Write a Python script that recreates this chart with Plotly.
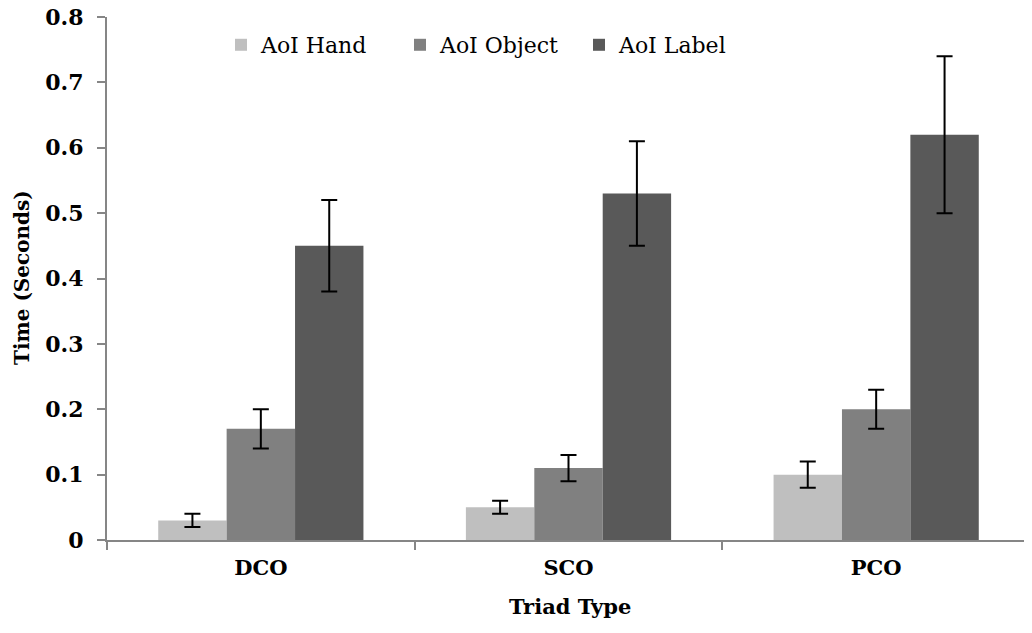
import plotly.graph_objects as go

categories = ["DCO", "SCO", "PCO"]
series_names = ["AoI Hand", "AoI Object", "AoI Label"]
hand = [0.03, 0.05, 0.10]
hand_err = [0.01, 0.01, 0.02]
obj = [0.17, 0.11, 0.20]
obj_err = [0.03, 0.02, 0.03]
label = [0.45, 0.53, 0.62]
label_err = [0.07, 0.08, 0.12]
y_tickvals = [0, 0.1, 0.2, 0.3, 0.4, 0.5, 0.6, 0.7, 0.8]
y_ticktext = ["0", "0.1", "0.2", "0.3", "0.4", "0.5", "0.6", "0.7", "0.8"]

colors = ["#bfbfbf", "#808080", "#595959"]
FONT = "DejaVu Serif"

fig = go.Figure()
for name, vals, errs, col in zip(series_names, [hand, obj, label], [hand_err, obj_err, label_err], colors):
    fig.add_trace(go.Bar(
        name=name,
        x=categories,
        y=vals,
        marker=dict(color=col, line=dict(width=0)),
        error_y=dict(type="data", array=errs, visible=True, color="black", thickness=2, width=8),
    ))

# page has an 8px body margin, so the figure is sized to the visible window
fig.update_layout(
    barmode="group",
    bargap=0.333,
    bargroupgap=0,
    width=1024,
    height=625,
    paper_bgcolor="white",
    plot_bgcolor="white",
    font=dict(family=FONT, color="black"),
    margin=dict(l=99, r=2, t=9, b=93),
    showlegend=True,
    legend=dict(
        orientation="h",
        x=0.1235, y=0.9465, xanchor="left", yanchor="middle",
        font=dict(size=22, family=FONT),
        bgcolor="rgba(0,0,0,0)",
        entrywidth=134,
        traceorder="normal",
    ),
    xaxis=dict(
        automargin=False,
        showline=True, linecolor="#868686", linewidth=2,
        ticks="outside", tickson="boundaries", ticklen=8, tickcolor="#868686", tickwidth=2,
        tickfont=dict(size=21, family=FONT),
        ticklabelstandoff=8,
        tickprefix="<b>", ticksuffix="</b>",
    ),
    yaxis=dict(
        automargin=False,
        range=[0, 0.8],
        tickmode="array", tickvals=y_tickvals,
        ticktext=["<b>" + t + "</b>" for t in y_ticktext],
        showline=True, linecolor="#868686", linewidth=2,
        ticks="outside", ticklen=8, tickcolor="#868686", tickwidth=2,
        showgrid=False, zeroline=False,
        tickfont=dict(size=22, family=FONT),
        ticklabelstandoff=9,
        ticklabeloverflow="allow",
    ),
    annotations=[
        dict(text="<b>Triad Type</b>", xref="paper", yref="paper", x=0.5016, y=-0.128,
             xanchor="center", yanchor="middle", showarrow=False, font=dict(size=21, family=FONT)),
        dict(text="<b>Time (Seconds)</b>", xref="paper", yref="paper", x=-0.0921, y=0.503,
             xanchor="center", yanchor="middle", textangle=-90, showarrow=False,
             font=dict(size=20, family=FONT)),
    ],
)

fig.write_html("out.html")
